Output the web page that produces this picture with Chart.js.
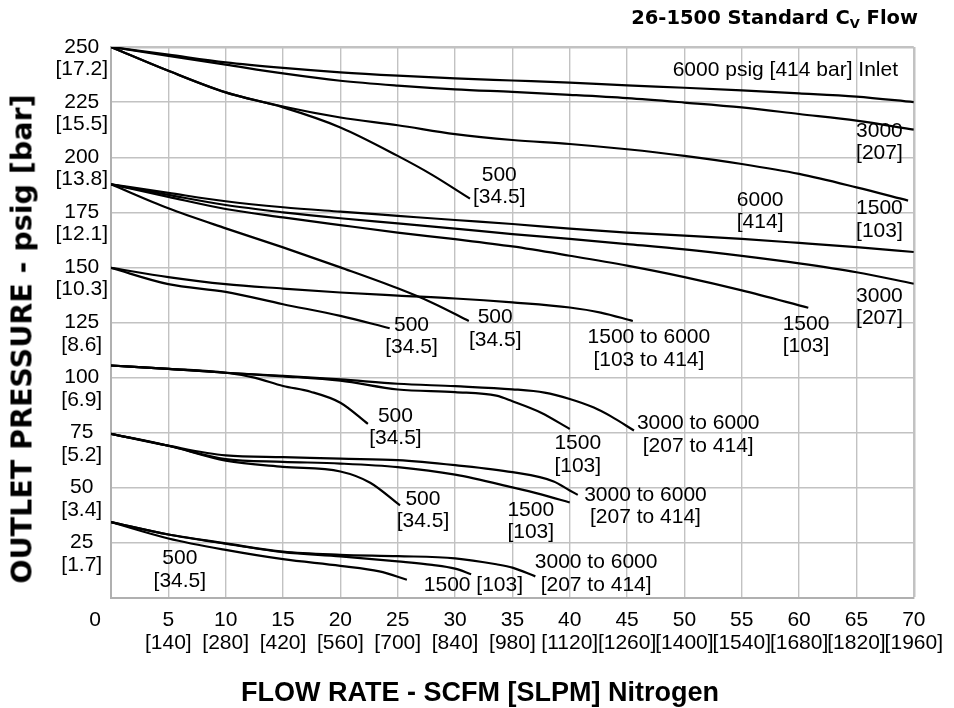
<!DOCTYPE html>
<html lang="en">
<head>
  <meta charset="UTF-8" />
  <meta name="viewport" content="width=device-width, initial-scale=1.0" />
  <script src="https://cdn.jsdelivr.net/npm/chart.js@4.4.1/dist/chart.umd.min.js"></script>
  <title>26-1500 Standard Cv Flow</title>
  <style>
    html, body { margin: 0; padding: 0; background: #fff; }
    #wrap { position: relative; width: 954px; height: 708px; color: #000; }
    #flow { display: block; }
    #cv-title { position: absolute; right: 36px; top: 6px; line-height: 22px; white-space: nowrap;
      font: bold 19.5px 'DejaVu Sans', sans-serif; }
    #cv-title sub { font-size: 13px; vertical-align: -4px; line-height: 0; }
    #y-title { position: absolute; left: 22px; top: 339px; transform: translate(-50%, -50%) rotate(-90deg);
      white-space: nowrap; font: bold 28.5px 'DejaVu Sans', sans-serif; }
    #x-title { position: absolute; left: 480px; top: 692px; transform: translate(-50%, -50%);
      white-space: nowrap; font: bold 27px 'Liberation Sans', Arial, sans-serif; }
  </style>
</head>

<body>
<div id="wrap">
  <canvas id="flow" width="954" height="708"></canvas>
  <div id="cv-title">26-1500 Standard C<sub>V</sub> Flow</div>
  <div id="y-title">OUTLET PRESSURE - psig [bar]</div>
  <div id="x-title">FLOW RATE - SCFM [SLPM] Nitrogen</div>
</div>
<script>
  // axis ticks
  const flowTicks = [0, 5, 10, 15, 20, 25, 30, 35, 40, 45, 50, 55, 60, 65, 70];
  const slpmTicks = ['', '[140]', '[280]', '[420]', '[560]', '[700]', '[840]', '[980]', '[1120]', '[1260]', '[1400]', '[1540]', '[1680]', '[1820]', '[1960]'];
  const psigTicks = [0, 25, 50, 75, 100, 125, 150, 175, 200, 225, 250];
  const barTicks = ['', '[1.7]', '[3.4]', '[5.2]', '[6.9]', '[8.6]', '[10.3]', '[12.1]', '[13.8]', '[15.5]', '[17.2]'];

  // curves: [flow scfm, outlet psig], named by set pressure and inlet pressure
  const set250_6000 = [[0, 250], [5, 246.5], [10, 243], [15, 240.5], [20, 238.5], [25, 237], [30, 235.8], [35, 234.8], [40, 233.8], [45, 232.6], [50, 231.5], [55, 230.3], [60, 229], [65, 227.5], [70, 225]];
  const set250_3000 = [[0, 250], [5, 246], [10, 242], [15, 238], [20, 234.7], [25, 232.5], [30, 230.8], [35, 229.6], [40, 228.3], [45, 226.8], [50, 224.8], [55, 222.6], [60, 219.6], [65, 216.6], [70, 212.5]];
  const set250_1500 = [[0, 250], [5, 239.2], [10, 229.4], [15, 223], [20, 218], [25, 214.5], [30, 210.5], [35, 207.8], [40, 206], [45, 203.6], [50, 200.6], [55, 196.9], [60, 192.4], [65, 186.3], [69.5, 180.3]];
  const set250_500 = [[0, 250], [5, 239.2], [10, 229.4], [15, 222.6], [20, 213.5], [25, 200.6], [28, 192], [31.3, 181.2]];

  const set188_6000 = [[0, 187.7], [5, 183.8], [10, 180], [15, 177.3], [20, 175.3], [25, 173.4], [30, 171.5], [35, 169.7], [40, 167.6], [45, 165.8], [50, 164.4], [55, 162.9], [60, 161.1], [65, 159.2], [70, 157]];
  const set188_3000 = [[0, 187.7], [5, 182.9], [10, 178.3], [15, 175], [20, 172.3], [25, 170], [30, 167.6], [35, 165.1], [40, 162.9], [45, 160.6], [50, 158.2], [55, 155.2], [60, 151.8], [65, 147.8], [70, 142.6]];
  const set188_1500 = [[0, 187.7], [5, 182], [10, 176.5], [15, 172.7], [20, 169.2], [25, 165.8], [30, 162.8], [35, 159.5], [40, 155.3], [45, 150.8], [50, 145.6], [55, 139.6], [60.8, 131.7]];
  const set188_500 = [[0, 187.7], [5, 176.8], [10, 167.7], [15, 159.1], [20, 150], [25, 140.5], [28, 134], [31.2, 125.7]];

  const set150_6000 = [[0, 149.8], [5, 145.6], [10, 142.4], [15, 140.4], [20, 138.6], [25, 137.2], [30, 135.9], [35, 134.1], [40, 131.8], [42.7, 129.5], [45.5, 125.7]];
  const set150_500 = [[0, 149.8], [5, 142.4], [10, 138.9], [15, 133.3], [20, 128], [24.3, 122.4]];

  const set105_6000 = [[0, 105.5], [5, 104], [10, 102.2], [15, 100.8], [20, 99.2], [25, 97.2], [30, 96.1], [35, 94.7], [37.8, 93.2], [40, 90.3], [42.1, 86.4], [43.6, 82.4], [45.6, 76]];
  const set105_1500 = [[0, 105.5], [5, 104], [10, 102.2], [15, 100.6], [20, 98.6], [25, 94.6], [30, 93.4], [33.6, 91.8], [35, 89.3], [37.5, 84.1], [40, 76.7]];
  const set105_500 = [[0, 105.5], [5, 104], [10, 102.2], [12.5, 100], [15, 96.2], [17.4, 93.6], [20, 88.6], [22.4, 79]];

  const set75_6000 = [[0, 74.5], [5, 69.1], [10, 64.7], [15, 63.9], [20, 63.2], [25, 62.6], [30, 60.3], [35, 57.1], [38.6, 52.9], [40, 48.8], [40.7, 46.8]];
  const set75_1500 = [[0, 74.5], [5, 69.1], [10, 63], [15, 61.8], [20, 61], [25, 59.4], [30, 56], [35, 50.2], [37.5, 47], [40, 43.3]];
  const set75_500 = [[0, 74.5], [5, 69.1], [10, 62.3], [15, 59.5], [20, 57.4], [22.6, 52.3], [25.2, 42]];

  const set34_6000 = [[0, 34.4], [5, 28.8], [10, 24.8], [15, 21], [20, 19.6], [25, 19], [30, 18], [33.6, 15.3], [35, 13.8], [37, 9.8]];
  const set34_1500 = [[0, 34.4], [5, 28.8], [10, 24.6], [15, 20.8], [20, 18.9], [25, 16.6], [28, 15], [30, 13.3], [31.4, 10.8]];
  const set34_500 = [[0, 34.4], [5, 27], [10, 21.8], [15, 17.6], [20, 14.6], [23.4, 12.1], [25.8, 8.3]];

  const curves = [
    set250_6000, set250_3000, set250_1500, set250_500,
    set188_6000, set188_3000, set188_1500, set188_500,
    set150_6000, set150_500,
    set105_6000, set105_1500, set105_500,
    set75_6000, set75_1500, set75_500,
    set34_6000, set34_1500, set34_500
  ];

  // curve captions: text, flow, psig (centre of the block)
  const notes = [
    ['6000 psig [414 bar] Inlet', 58.8, 239.4],
    ['3000\n[207]', 67.0, 206.8],
    ['1500\n[103]', 67.0, 171.7],
    ['6000\n[414]', 56.6, 175.4],
    ['3000\n[207]', 67.0, 132],
    ['1500\n[103]', 60.6, 119.3],
    ['500\n[34.5]', 33.85, 186.9],
    ['500\n[34.5]', 33.5, 122.2],
    ['500\n[34.5]', 26.2, 118.8],
    ['1500 to 6000\n[103 to 414]', 46.9, 113.2],
    ['500\n[34.5]', 24.8, 77.6],
    ['1500\n[103]', 40.7, 65],
    ['3000 to 6000\n[207 to 414]', 51.2, 74.2],
    ['500\n[34.5]', 27.2, 39.8],
    ['1500\n[103]', 36.6, 34.8],
    ['3000 to 6000\n[207 to 414]', 46.6, 41.6],
    ['500\n[34.5]', 6.0, 12.9],
    ['1500 [103]', 31.6, 5.6],
    ['3000 to 6000\n[207 to 414]', 42.3, 11]
  ];

  const LABEL_FONT = '21px "Liberation Sans", Arial, sans-serif';
  const LINE_H = 22.5;

  const curveNotes = {
    id: 'curveNotes',
    afterDatasetsDraw(chart) {
      const { ctx, scales: { x, y } } = chart;
      ctx.save();
      ctx.font = LABEL_FONT;
      ctx.fillStyle = '#000';
      ctx.textAlign = 'center';
      ctx.textBaseline = 'middle';
      notes.forEach(([text, flow, psig]) => {
        const lines = text.split('\n');
        const px = x.getPixelForValue(flow);
        const top = y.getPixelForValue(psig) - (lines.length - 1) * LINE_H / 2;
        lines.forEach((line, i) => ctx.fillText(line, px, top + i * LINE_H));
      });
      // the shared zero sits a little left of the corner
      ctx.fillText('0', x.getPixelForValue(0) - 16, x.top + 11 + LINE_H / 2);
      ctx.restore();
    }
  };

  const tickFont = { family: '"Liberation Sans", Arial, sans-serif', size: 21, lineHeight: 1.07 };
  const gridColor = '#c2c2c2';

  new Chart(document.getElementById('flow'), {
    type: 'line',
    data: {
      datasets: curves.map(c => ({
        data: c.map(([x, y]) => ({ x, y })),
        borderColor: '#000',
        borderWidth: 2.2,
        pointRadius: 0,
        fill: false,
        cubicInterpolationMode: 'monotone'
      }))
    },
    options: {
      responsive: false,
      animation: false,
      events: [],
      layout: { padding: { top: 47, right: 32, left: 0, bottom: 0 } },
      plugins: { legend: { display: false }, tooltip: { enabled: false } },
      scales: {
        x: {
          type: 'linear',
          min: 0,
          max: 70,
          afterFit: (s) => { s.height = 110; },
          border: { color: '#b0b0b0', width: 2 },
          grid: {
            color: gridColor,
            lineWidth: (c) => (c.tick && c.tick.value === 70 ? 2.5 : 1.4),
            drawTicks: false
          },
          ticks: {
            stepSize: 5,
            autoSkip: false,
            maxRotation: 0,
            padding: 11,
            color: '#000',
            font: tickFont,
            callback: (v) => {
              const i = flowTicks.indexOf(v);
              return v === 0 ? '' : [String(v), slpmTicks[i]];
            }
          }
        },
        y: {
          min: 0,
          max: 250,
          afterFit: (s) => { s.width = 111; },
          border: { color: '#b0b0b0', width: 2 },
          grid: {
            color: gridColor,
            lineWidth: (c) => (c.tick && c.tick.value === 250 ? 2.5 : 1.4),
            drawTicks: false
          },
          ticks: {
            stepSize: 25,
            padding: 3,
            crossAlign: 'center',
            labelOffset: 11,
            color: '#000',
            font: tickFont,
            callback: (v) => {
              const i = psigTicks.indexOf(v);
              return v === 0 ? '' : [String(v), barTicks[i]];
            }
          }
        }
      }
    },
    plugins: [curveNotes]
  });
</script>
</body>
</html>
